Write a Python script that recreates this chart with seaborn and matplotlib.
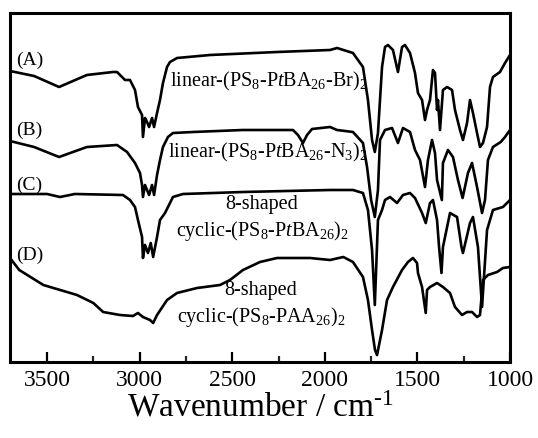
import numpy as np
import pandas as pd
import matplotlib
matplotlib.use("Agg")
import matplotlib.pyplot as plt
from matplotlib.ticker import MultipleLocator, FuncFormatter
import seaborn as sns

# FTIR spectra (wavenumber in cm^-1, stacked transmittance in arbitrary units)
wn_a = [3700, 3570, 3435, 3285, 3144, 3122, 3079, 3052, 3025, 3009, 2987, 2982,
        2971, 2960, 2949, 2933, 2922, 2906, 2890, 2874, 2852, 2836, 2798, 2620,
        2258, 1972, 1934, 1848, 1794, 1767, 1745, 1730, 1713, 1691, 1675, 1659,
        1632, 1605, 1583, 1567, 1540, 1513, 1497, 1475, 1459, 1448, 1432, 1416,
        1405, 1394, 1389, 1378, 1362, 1340, 1313, 1297, 1270, 1254, 1232, 1216,
        1200, 1178, 1162, 1146, 1124, 1108, 1092, 1054, 1027, 1000]
t_a = [291, 286, 275, 287, 290, 290, 282, 282, 272, 255, 247, 225,
       244, 240, 235, 244, 235, 249, 262, 279, 295, 300, 304, 307,
       310, 312, 314, 309, 295, 262, 222, 210, 229, 295, 315, 317,
       312, 290, 315, 317, 309, 289, 269, 262, 242, 252, 262, 292,
       289, 252, 262, 232, 272, 275, 272, 252, 232, 222, 239, 262,
       249, 229, 215, 219, 235, 275, 285, 290, 299, 307]

wn_b = [3700, 3570, 3435, 3285, 3122, 3068, 3025, 2998, 2987, 2982, 2971, 2960,
        2949, 2933, 2922, 2906, 2890, 2874, 2847, 2820, 2712, 2442, 2172, 2145,
        2118, 2096, 2069, 1972, 1934, 1848, 1794, 1772, 1750, 1730, 1713, 1702,
        1675, 1637, 1605, 1578, 1540, 1513, 1486, 1459, 1443, 1421, 1405, 1394,
        1368, 1362, 1335, 1308, 1281, 1256, 1227, 1205, 1178, 1151, 1135, 1119,
        1092, 1050, 1027, 1000]
t_b = [221, 215, 205, 215, 217, 210, 199, 189, 177, 165, 177, 172,
       167, 177, 167, 187, 202, 215, 225, 229, 230, 232, 232, 227,
       219, 227, 233, 235, 232, 230, 219, 195, 162, 145, 172, 222,
       232, 234, 219, 234, 230, 212, 202, 175, 202, 222, 209, 182,
       162, 199, 212, 205, 182, 164, 189, 199, 175, 149, 162, 202,
       215, 220, 225, 232]

wn_c = [3700, 3500, 3430, 3350, 3090, 3052, 3025, 3009, 2987, 2982, 2971, 2955,
        2940, 2927, 2906, 2890, 2863, 2836, 2820, 2766, 2442, 1972, 1848, 1794,
        1767, 1745, 1730, 1713, 1691, 1675, 1648, 1610, 1578, 1540, 1513, 1475,
        1455, 1432, 1416, 1394, 1383, 1370, 1362, 1324, 1286, 1262, 1254, 1216,
        1200, 1173, 1151, 1124, 1092, 1038, 1000]
t_c = [168, 168, 165, 168, 167, 162, 155, 142, 125, 104, 117, 109,
       119, 105, 125, 142, 149, 159, 165, 168, 170, 172, 172, 169,
       152, 112, 57, 142, 152, 162, 165, 159, 167, 169, 164, 149,
       139, 159, 162, 142, 115, 89, 115, 149, 145, 115, 109, 139,
       145, 115, 55, 132, 152, 155, 162]

wn_d = [3700, 3650, 3520, 3338, 3250, 3197, 3106, 3036, 3009, 2982, 2944, 2927,
        2906, 2852, 2798, 2690, 2566, 2512, 2442, 2350, 2258, 2080, 1972, 1900,
        1848, 1794, 1767, 1745, 1729, 1718, 1691, 1664, 1632, 1583, 1551, 1524,
        1502, 1497, 1475, 1455, 1448, 1432, 1394, 1362, 1324, 1297, 1259, 1232,
        1205, 1178, 1162, 1146, 1119, 1070, 1038, 1000]
t_d = [104, 92, 77, 67, 59, 50, 47, 46, 49, 45, 42, 39,
       47, 62, 69, 74, 77, 82, 92, 100, 104, 104, 102, 105,
       100, 85, 62, 32, 12, 7, 32, 62, 75, 92, 100, 104,
       99, 89, 75, 49, 72, 75, 79, 75, 69, 55, 47, 50,
       50, 45, 47, 82, 87, 90, 94, 95]

series_ids = ["A", "B", "C", "D"]
tags = ["(A)", "(B)", "(C)", "(D)"]
names = [r"linear-(PS$_8$-P$\it{t}$BA$_{26}$-Br)$_2$",
         r"linear-(PS$_8$-P$\it{t}$BA$_{26}$-N$_3$)$_2$",
         "8-shaped\n" r"cyclic-(PS$_8$-P$\it{t}$BA$_{26}$)$_2$",
         "8-shaped\n" r"cyclic-(PS$_8$-PAA$_{26}$)$_2$"]

frames = []
for sid, w, t in zip(series_ids, [wn_a, wn_b, wn_c, wn_d], [t_a, t_b, t_c, t_d]):
    frames.append(pd.DataFrame({"wn": w, "T": t, "sample": sid}))
df = pd.concat(frames, ignore_index=True)

sns.set_theme(style="ticks")
plt.rcParams["font.family"] = ["Liberation Serif", "DejaVu Serif"]
plt.rcParams["mathtext.fontset"] = "custom"
plt.rcParams["mathtext.rm"] = "Liberation Serif"
plt.rcParams["mathtext.it"] = "Liberation Serif:italic"
plt.rcParams["mathtext.bf"] = "Liberation Serif:bold"
plt.rcParams["axes.unicode_minus"] = False

fig = plt.figure(figsize=(5.38, 4.38), dpi=100)
ax = fig.add_axes([10 / 538, 1 - 362 / 438, 500 / 538, 349 / 438])

sns.lineplot(data=df, x="wn", y="T", hue="sample", units="sample",
             estimator=None, sort=True, palette=["black"] * 4,
             linewidth=1.9, legend=False, ax=ax)

ax.set_xlim(3700, 1000)
ax.set_ylim(0, 349)
ax.set_yticks([])
ax.set_ylabel("")
ax.xaxis.set_major_locator(MultipleLocator(500))
ax.xaxis.set_minor_locator(MultipleLocator(250))
ax.xaxis.set_major_formatter(FuncFormatter(lambda v, p: f"{int(round(v))}"))
ax.tick_params(axis="x", which="major", direction="in", length=7, width=1.6,
               labelsize=17, pad=6, colors="black")
ax.tick_params(axis="x", which="minor", direction="in", length=4, width=1.6)
for lbl in ax.get_xticklabels():
    lbl.set_fontfamily("Liberation Serif")
for s in ax.spines.values():
    s.set_visible(True)
    s.set_linewidth(2.2)
    s.set_color("black")

# axis title; the superscript uses a typographic hyphen (U+2010)
ax.set_xlabel("Wavenumber / cm$^{\u20101}$", fontsize=24, labelpad=1,
              color="black")

# series tags on the left
tag_pos = [(3668, 302), (3668, 232), (3668, 177), (3668, 107)]
for tg, (x, y) in zip(tags, tag_pos):
    ax.text(x, y, tg, fontsize=14, ha="left", va="center", color="black")

# sample names
ax.text(2836, 281, names[0], fontsize=14.5, ha="left", va="center", color="black")
ax.text(2848, 210, names[1], fontsize=14.5, ha="left", va="center", color="black")
ax.text(2339, 143, names[2], fontsize=14.5, ha="center", va="center",
        color="black", linespacing=1.3)
ax.text(2345, 57, names[3], fontsize=14.5, ha="center", va="center",
        color="black", linespacing=1.3)

fig.savefig("out.png", dpi=100)
